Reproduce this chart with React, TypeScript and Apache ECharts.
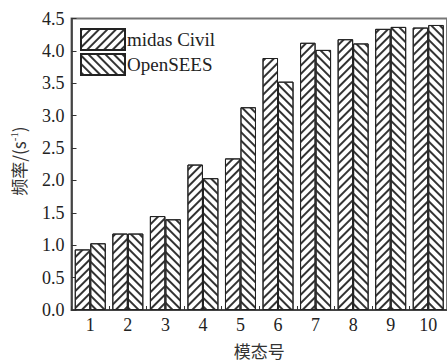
import React, { useEffect, useRef } from "react";
import * as echarts from "echarts";

const categories = ["1", "2", "3", "4", "5", "6", "7", "8", "9", "10"];
const midasCivil = [0.935, 1.18, 1.45, 2.245, 2.34, 3.89, 4.125, 4.18, 4.34, 4.36];
const openSees = [1.03, 1.18, 1.4, 2.035, 3.13, 3.525, 4.015, 4.115, 4.37, 4.4];
const seriesNames = ["midas Civil", "OpenSEES"];
const yTicks = { min: 0, max: 4.5, interval: 0.5 };

const FONT = "'Liberation Serif', 'Times New Roman', serif";
const CJK = "'Noto Sans CJK SC', sans-serif";

export default function App() {
  const ref = useRef<HTMLDivElement>(null);
  useEffect(() => {
    if (!ref.current) return;
    const chart = echarts.init(ref.current, undefined, { renderer: "svg" });
    const hatch = (rot: number) => ({
      symbol: "rect",
      symbolSize: 1,
      dashArrayX: [1, 0],
      dashArrayY: [1.6, 4],
      rotation: rot,
      color: "#333",
      backgroundColor: "#fff",
    });
    chart.setOption({
      animation: false,
      backgroundColor: "#fff",
      grid: {
        left: 71.5,
        top: 18.5,
        width: 376.5,
        height: 300,
        show: true,
        borderColor: "#777",
        borderWidth: 2,
        backgroundColor: "transparent",
      },
      legend: {
        orient: "vertical",
        left: 80,
        top: 28,
        itemWidth: 44,
        itemHeight: 21,
        itemGap: 2,
        padding: 0,
        icon: "rect",
        textStyle: { fontFamily: FONT, fontSize: 19, color: "#222", padding: [0, 0, 0, -3] },
        data: seriesNames,
      },
      graphic: [
        {
          type: "text",
          x: 18,
          y: 161,
          rotation: Math.PI / 2,
          style: {
            text: "{a|频率/(s}{sup|-1}{a|)}",
            align: "center",
            verticalAlign: "middle",
            rich: {
              a: { fontFamily: CJK, fontSize: 17, fill: "#333", color: "#333" },
              sup: { fontFamily: FONT, fontSize: 11, fill: "#333", color: "#333", verticalAlign: "top", padding: [0, 0, 8, 0] },
            },
          },
        },
      ],
      xAxis: {
        type: "category",
        data: categories,
        name: "模态号",
        nameLocation: "middle",
        nameGap: 32,
        nameTextStyle: { fontFamily: CJK, fontSize: 17, color: "#333" },
        axisLine: { lineStyle: { color: "#333", width: 1.5 } },
        axisTick: { show: true, inside: true, length: 4, lineStyle: { color: "#333" } },
        axisLabel: { fontFamily: FONT, fontSize: 18, color: "#222", margin: 6 },
      },
      yAxis: {
        type: "value",
        min: yTicks.min,
        max: yTicks.max,
        interval: yTicks.interval,
        splitLine: { show: false },
        axisLine: { show: true, lineStyle: { color: "#333", width: 1.5 } },
        axisTick: { show: true, inside: true, length: 5, lineStyle: { color: "#333" } },
        axisLabel: {
          fontFamily: FONT,
          fontSize: 18,
          color: "#222",
          margin: 7,
          formatter: (v: number) => v.toFixed(1),
        },
      },
      series: [
        {
          name: seriesNames[0],
          type: "bar",
          data: midasCivil,
          barWidth: 15.5,
          barGap: "0%",
          itemStyle: { color: "#fff", borderColor: "#222", borderWidth: 1, decal: hatch(-Math.PI / 4) },
        },
        {
          name: seriesNames[1],
          type: "bar",
          data: openSees,
          barWidth: 15.5,
          barGap: "0%",
          itemStyle: { color: "#fff", borderColor: "#222", borderWidth: 1, decal: hatch(Math.PI / 4) },
        },
      ],
    });
    return () => chart.dispose();
  }, []);
  return (
    <div
      ref={ref}
      style={{ position: "fixed", left: 0, top: 0, width: 447, height: 364, background: "#fff" }}
    />
  );
}
